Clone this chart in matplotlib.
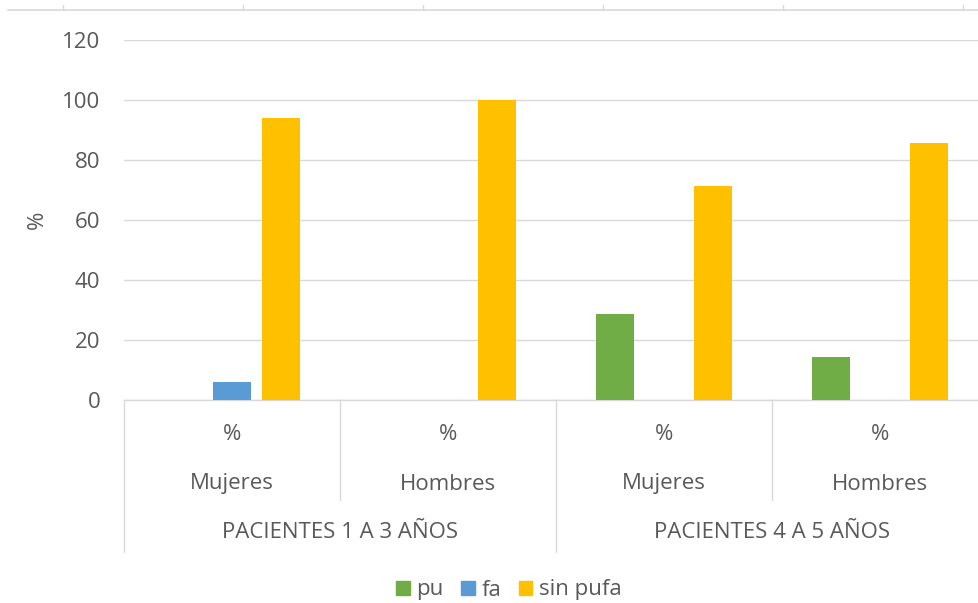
import matplotlib
matplotlib.use("Agg")
import matplotlib.pyplot as plt
from matplotlib.lines import Line2D
from matplotlib.patches import Patch
import numpy as np

plt.rcParams['font.family'] = ['Open Sans', 'DejaVu Sans']

inner_labels = ["Mujeres", "Hombres", "Mujeres", "Hombres"]
outer_labels = ["PACIENTES 1 A 3 AÑOS", "PACIENTES 4 A 5 AÑOS"]
series_names = ["pu", "fa", "sin pufa"]
pu = [0, 0, 28.6, 14.3]
fa = [5.9, 0, 0, 0]
sin_pufa = [94.1, 100, 71.4, 85.7]
colors = ["#70AD47", "#5B9BD5", "#FFC000"]
yticks = [0, 20, 40, 60, 80, 100, 120]

FS = 16
TC = "#595959"
W, H = 979, 603
fig = plt.figure(figsize=(W / 100, H / 100), dpi=100)
ax = fig.add_axes([124 / W, (H - 400) / H, 864 / W, 360 / H])

x = np.arange(len(inner_labels))
bw = 0.176
off = 0.227
for i, (vals, c) in enumerate(zip([pu, fa, sin_pufa], colors)):
    ax.bar(x + (i - 1) * off, vals, width=bw, color=c, zorder=3)

ax.set_xlim(-0.5, 3.5)
ax.set_ylim(0, 120)
ax.set_yticks(yticks)
ax.set_yticklabels([str(v) for v in yticks], fontsize=FS, color=TC)
ax.tick_params(axis='y', length=0, pad=17)
ax.set_xticks([])
ax.grid(axis='y', color="#d9d9d9", lw=1, zorder=0)
for s in ["top", "right", "left"]:
    ax.spines[s].set_visible(False)
ax.spines["bottom"].set_color("#d9d9d9")
ax.spines["bottom"].set_linewidth(1)
fig.text(37 / W, 1 - 220 / H, "%", rotation=90, ha="center", va="center",
         fontsize=FS, color=TC)

tr = ax.get_xaxis_transform()
for xi, lab in zip(x, inner_labels):
    ax.text(xi, -35 / 360, "%", transform=tr, ha="center", va="center",
            fontsize=FS, color=TC)
    ax.text(xi, -84 / 360, lab, transform=tr, ha="center", va="center",
            fontsize=FS, color=TC)
for k, lab in enumerate(outer_labels):
    ax.text(2 * k + 0.5, -133 / 360, lab, transform=tr, ha="center", va="center",
            fontsize=FS, color=TC)
for xs, depth in [(-0.5, 152), (0.5, 100), (1.5, 152), (2.5, 100)]:
    ax.plot([xs, xs], [0, -depth / 360], transform=tr, color="#d9d9d9",
            lw=1, clip_on=False)

# decorative fragment of an axis at the top edge
fig.add_artist(Line2D([8 / W, 1], [1 - 10 / H, 1 - 10 / H], color="#d9d9d9", lw=1.2))
for px in [63, 243, 423, 603, 783, 963]:
    fig.add_artist(Line2D([px / W, px / W], [1 - 10 / H, 1 - 5 / H], color="#d9d9d9", lw=1))

handles = [Patch(color=c, label=n) for c, n in zip(colors, series_names)]
fig.legend(handles=handles, loc="center", bbox_to_anchor=(509 / W, 1 - 590 / H),
           ncol=3, frameon=False, fontsize=FS, labelcolor=TC,
           handlelength=0.6, handleheight=0.6, handletextpad=0.3, columnspacing=0.8)

fig.savefig("out.png", dpi=100)
